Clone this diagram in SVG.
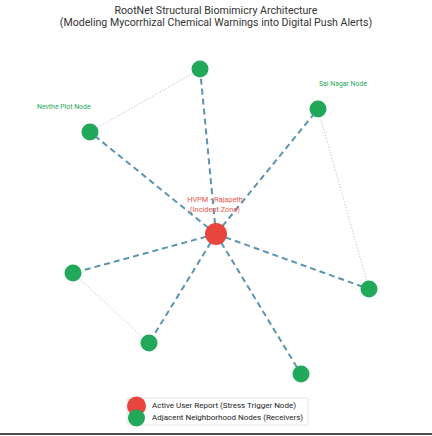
<svg xmlns="http://www.w3.org/2000/svg" width="432" height="436" viewBox="0 0 432 436">
<style>
.t{font-family:Roboto,"Liberation Sans",sans-serif;fill:#333;}
.lbl{font-family:Roboto,"Liberation Sans",sans-serif;fill:#2aa860;font-size:6.9px;}
.hub{font-family:Roboto,"Liberation Sans",sans-serif;fill:#e8574c;font-size:7.4px;}
.dash{stroke:#4a87a8;stroke-width:2;stroke-dasharray:6 4;fill:none;opacity:0.9;}
.dot{stroke:#b5b5b5;stroke-width:1;stroke-dasharray:1 2;fill:none;}
.g{fill:#22a85a;}
.r{fill:#e8453c;}
.leg{font-family:Roboto,"Liberation Sans",sans-serif;fill:#222;font-size:8px;}
</style>
<rect width="432" height="436" fill="#ffffff"/>
<text class="t" x="216" y="14" text-anchor="middle" font-size="10.6">RootNet Structural Biomimicry Architecture</text>
<text class="t" x="216" y="26" text-anchor="middle" font-size="10.6">(Modeling Mycorrhizal Chemical Warnings into Digital Push Alerts)</text>
<g id="connectors">
<line class="dash" x1="216" y1="234" x2="200" y2="69"/>
<line class="dash" x1="216" y1="234" x2="90" y2="132"/>
<line class="dash" x1="216" y1="234" x2="318" y2="109"/>
<line class="dash" x1="216" y1="234" x2="73" y2="273"/>
<line class="dash" x1="216" y1="234" x2="149" y2="343"/>
<line class="dash" x1="216" y1="234" x2="369" y2="289"/>
<line class="dash" x1="216" y1="234" x2="301" y2="374"/>
<line class="dot" x1="200" y1="69" x2="90" y2="132"/>
<line class="dot" x1="318" y1="109" x2="369" y2="289"/>
<line class="dot" x1="73" y1="273" x2="149" y2="343"/>
</g>
<g id="node-top"><circle class="g" cx="200" cy="69" r="8.5"/></g>
<g id="node-nevthe"><circle class="g" cx="90" cy="132" r="8.5"/><text class="lbl" x="37" y="109">Nevthe Plot Node</text></g>
<g id="node-sainagar"><circle class="g" cx="318" cy="109" r="8.5"/><text class="lbl" x="319" y="86">Sai Nagar Node</text></g>
<g id="node-left"><circle class="g" cx="73" cy="273" r="8.5"/></g>
<g id="node-bottomleft"><circle class="g" cx="149" cy="343" r="8.5"/></g>
<g id="node-right"><circle class="g" cx="369" cy="289" r="8.5"/></g>
<g id="node-bottomright"><circle class="g" cx="301" cy="374" r="8.5"/></g>
<g id="node-hvpm"><circle class="r" cx="216" cy="234" r="11"/>
<text class="hub" x="215" y="202" text-anchor="middle">HVPM - Rajapeth</text>
<text class="hub" x="215" y="211.5" text-anchor="middle">(Incident Zone)</text></g>
<g id="legend">
<rect x="127" y="398" width="181" height="27" fill="#ffffff" stroke="#dddddd" stroke-width="0.8" rx="2"/>
<circle class="r" cx="136.5" cy="406" r="9.5"/>
<circle class="g" cx="136.5" cy="418" r="8.5"/>
<text class="leg" x="152" y="408">Active User Report (Stress Trigger Node)</text>
<text class="leg" x="152" y="419.5">Adjacent Neighborhood Nodes (Receivers)</text>
</g>
<line x1="0" y1="434" x2="432" y2="434" stroke="#111" stroke-width="1.5"/>
</svg>
